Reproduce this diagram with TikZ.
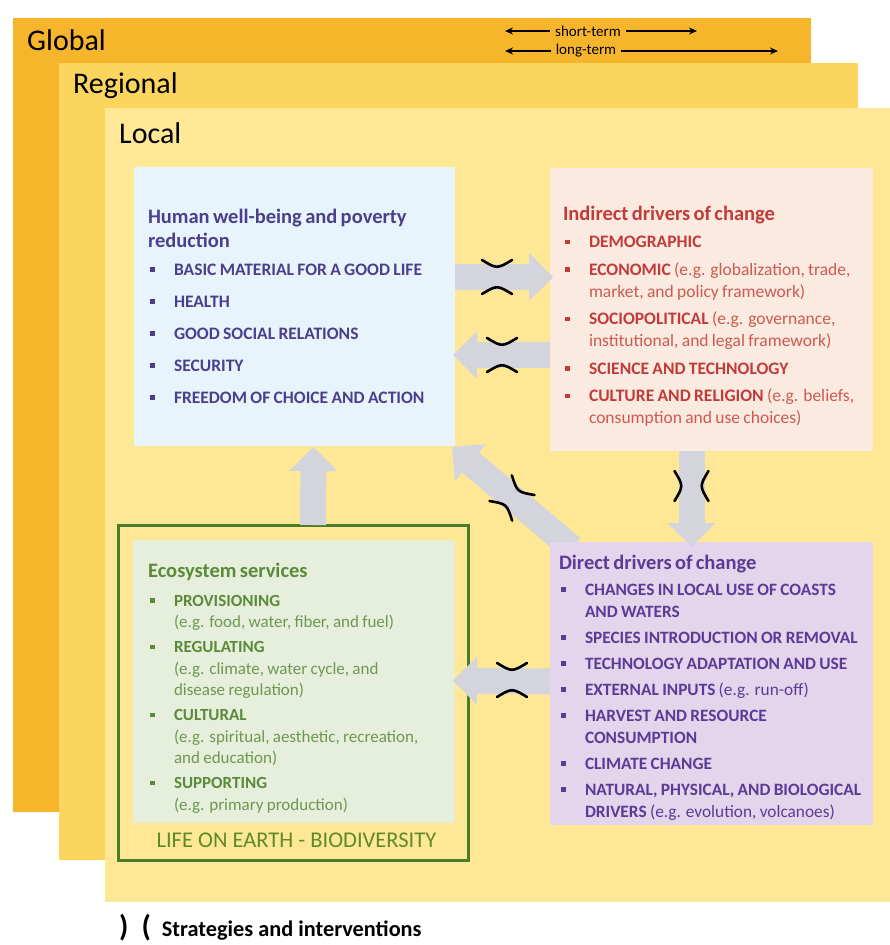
\documentclass[tikz,border=0pt]{standalone}
\usepackage{fontspec}
\setmainfont{Carlito}
\usetikzlibrary{arrows.meta}
\definecolor{globalc}{HTML}{F7B52C}
\definecolor{regionalc}{HTML}{FCD55F}
\definecolor{localc}{HTML}{FEE895}
\definecolor{bluebox}{HTML}{E8F4FB}
\definecolor{peachbox}{HTML}{FBEADF}
\definecolor{purplebox}{HTML}{E4D4EC}
\definecolor{greenbox}{HTML}{E6EFDC}
\definecolor{greenline}{HTML}{4A7C2C}
\definecolor{arrowc}{HTML}{D4D4DC}
\definecolor{bluetxt}{HTML}{4B3F8C}
\definecolor{redtxt}{HTML}{C23B3B}
\definecolor{redlight}{HTML}{CC5A52}
\definecolor{purpletxt}{HTML}{5A3C96}
\definecolor{greentxt}{HTML}{5B8A3A}
\definecolor{greenlight}{HTML}{6E9752}
\definecolor{biodivc}{HTML}{5E8A2A}
\newcommand{\bitem}[1]{\par\hangindent=26pt\hangafter=1\noindent\hspace*{2pt}\makebox[24pt][l]{\raisebox{3.5pt}{\rule{4.5pt}{4.5pt}}}#1\par}
\newcommand{\pinchmark}[3]{%
  \begin{scope}[shift={(#1,#2)},rotate=#3]
    \draw[pinch] (-15,-17) .. controls (0,-8) .. (15,-17);
    \draw[pinch] (-15,17) .. controls (0,8) .. (15,17);
  \end{scope}}
\begin{document}
\begin{tikzpicture}[x=1pt,y=-1pt,
  rect/.style={inner sep=0pt, outer sep=0pt, anchor=north west, draw=none},
  txt/.style={anchor=base west, inner sep=0pt, outer sep=0pt},
  fat/.style={draw=arrowc, line width=26pt, -{Triangle[width=48pt,length=24pt,line width=0pt]}},
  pinch/.style={draw=black, line width=2.6pt, line cap=round},
  tarr/.style={draw=black, line width=1.5pt, -{Stealth[length=8pt,width=7pt]}},
  scale label/.style={anchor=base west, inner sep=0pt, font=\fontsize{30}{32}\selectfont}
]
\useasboundingbox[fill=white] (0,0) rectangle (890,945);

% scale layers
\node[rect, fill=globalc, minimum width=798pt, minimum height=794pt] (global) at (13,18) {};
\node[rect, fill=regionalc, minimum width=799pt, minimum height=797pt] (regional) at (59,63) {};
\node[rect, fill=localc, minimum width=785pt, minimum height=794pt] (local) at (105,108) {};

\node[scale label] (tglobal) at (27,50) {Global};
\node[scale label] (tregional) at (73,93) {Regional};
\node[scale label] (tlocal) at (119,143) {Local};

% time scale
\coordinate (stl) at (505,31);
\coordinate (str) at (697,31);
\coordinate (ltl) at (505,51);
\coordinate (ltr) at (778,51);
\node[inner sep=5pt, font=\fontsize{15}{16}\selectfont] (st) at (588,31) {short-term};
\node[inner sep=5pt, font=\fontsize{15}{16}\selectfont] (lt) at (586,51) {long-term};
\draw[tarr] (st.west) -- (stl);
\draw[tarr] (st.east) -- (str);
\draw[tarr] (lt.west) -- (ltl);
\draw[tarr] (lt.east) -- (ltr);

% diagonal arrow drawn below the boxes
\node[rect, minimum width=323pt, minimum height=283pt] (purpleghost) at (550,542) {};
\node[rect, minimum width=321pt, minimum height=279pt] (blueghost) at (134,167) {};
\draw[fat] ([shift={(22,6)}]purpleghost.north west) -- ([shift={(-3,1)}]blueghost.south east);

% boxes
\node[rect, fill=bluebox, minimum width=321pt, minimum height=279pt] (blue) at (134,167) {};
\node[rect, fill=peachbox, minimum width=323pt, minimum height=283pt] (peach) at (550,168) {};
\node[rect, fill=purplebox, minimum width=323pt, minimum height=283pt] (purple) at (550,542) {};
\node[rect, draw=greenline, line width=3pt, minimum width=350pt, minimum height=335pt] (greenout) at (118,525) {};
\node[rect, fill=greenbox, minimum width=322pt, minimum height=283pt] (greenin) at (133,540) {};

% arrows
\draw[fat] ([shift={(0,110)}]blue.north east) -- ([shift={(3,109)}]peach.north west);
\draw[fat] ([shift={(0,187)}]peach.north west) -- ([shift={(-2,188)}]blue.north east);
\draw[fat] ([shift={(-20,0)}]peach.south) -- ([shift={(-20,5)}]purple.north);
\draw[fat] ([shift={(20,0)}]greenout.north) -- ([shift={(19,1)}]blue.south);
\draw[fat] ([shift={(0,-2)}]purple.west) -- ([shift={(-2,-1)}]greenin.east);

% strategies and interventions marks
\pinchmark{497}{277}{0}
\pinchmark{502}{355}{0}
\pinchmark{691.5}{486}{90}
\pinchmark{512}{498}{139}
\pinchmark{512}{680}{0}

% box texts
\node[txt, text width=305pt, text=bluetxt] (bluetext) at (148,223) {%
  \raggedright\parindent=0pt\fontsize{17.5}{22}\selectfont\setlength{\parskip}{10pt}%
  {\fontsize{20.5}{24}\selectfont\bfseries Human well-being and poverty\newline reduction\par}\vspace{-4pt}%
  \bitem{\textbf{BASIC MATERIAL FOR A GOOD LIFE}}%
  \bitem{\textbf{HEALTH}}%
  \bitem{\textbf{GOOD SOCIAL RELATIONS}}%
  \bitem{\textbf{SECURITY}}%
  \bitem{\textbf{FREEDOM OF CHOICE AND ACTION}}};

\node[txt, text width=310pt, text=redtxt] (peachtext) at (563,220) {%
  \raggedright\parindent=0pt\fontsize{17.5}{22}\selectfont\setlength{\parskip}{5.5pt}%
  {\fontsize{20.5}{24}\selectfont\bfseries Indirect drivers of change\par}%
  \bitem{\textbf{DEMOGRAPHIC}}%
  \bitem{\textbf{ECONOMIC} {\color{redlight}(e.g. globalization, trade,\newline market, and policy framework)}}%
  \bitem{\textbf{SOCIOPOLITICAL} {\color{redlight}(e.g. governance,\newline institutional, and legal framework)}}%
  \bitem{\textbf{SCIENCE AND TECHNOLOGY}}%
  \bitem{\textbf{CULTURE AND RELIGION} {\color{redlight}(e.g. beliefs,\newline consumption and use choices)}}};

\node[txt, text width=312pt, text=purpletxt] (purpletext) at (559,569) {%
  \raggedright\parindent=0pt\fontsize{17.3}{22}\selectfont\setlength{\parskip}{4pt}%
  {\fontsize{20.5}{24}\selectfont\bfseries Direct drivers of change\par}%
  \bitem{\textbf{CHANGES IN LOCAL USE OF COASTS\newline AND WATERS}}%
  \bitem{\textbf{SPECIES INTRODUCTION OR REMOVAL}}%
  \bitem{\textbf{TECHNOLOGY ADAPTATION AND USE}}%
  \bitem{\textbf{EXTERNAL INPUTS} (e.g. run-off)}%
  \bitem{\textbf{HARVEST AND RESOURCE\newline CONSUMPTION}}%
  \bitem{\textbf{CLIMATE CHANGE}}%
  \bitem{\textbf{NATURAL, PHYSICAL, AND BIOLOGICAL\newline DRIVERS} (e.g. evolution, volcanoes)}};

\node[txt, text width=305pt, text=greentxt] (greentext) at (148,577) {%
  \raggedright\parindent=0pt\fontsize{17}{21.5}\selectfont\setlength{\parskip}{3.5pt}%
  {\fontsize{20.5}{24}\selectfont\bfseries Ecosystem services\par}\vspace{4pt}%
  \bitem{\textbf{PROVISIONING}\newline {\color{greenlight}(e.g. food, water, fiber, and fuel)}}%
  \bitem{\textbf{REGULATING}\newline {\color{greenlight}(e.g. climate, water cycle, and\newline disease regulation)}}%
  \bitem{\textbf{CULTURAL}\newline {\color{greenlight}(e.g. spiritual, aesthetic, recreation,\newline and education)}}%
  \bitem{\textbf{SUPPORTING}\newline {\color{greenlight}(e.g. primary production)}}};

\node[anchor=base, inner sep=0pt, text=biodivc, font=\fontsize{22.5}{24}\selectfont] (biodiv) at (296.5,847) {LIFE ON EARTH - BIODIVERSITY};

% legend
\node[anchor=base west, inner sep=0pt] (legend) at (119,936) {{\fontsize{30}{30}\selectfont\bfseries )\hspace{13pt}(}\hspace{11pt}{\fontsize{22.3}{24}\selectfont\bfseries Strategies and interventions}};
\end{tikzpicture}
\end{document}
